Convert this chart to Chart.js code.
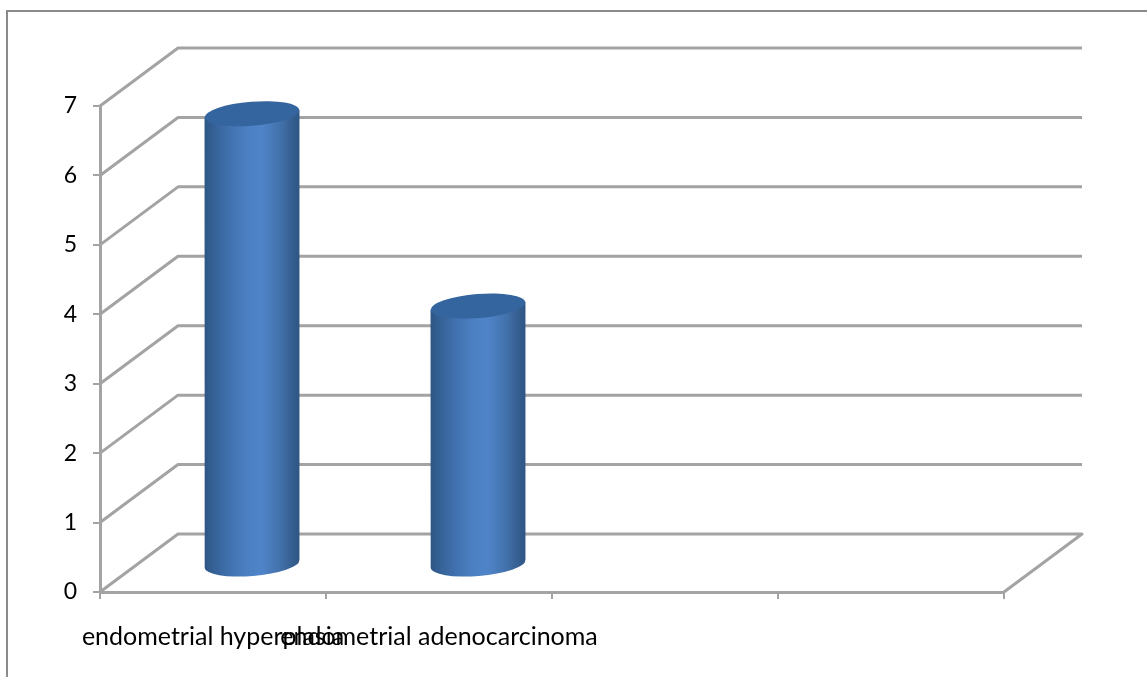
<!DOCTYPE html>
<html>
<head>
<meta charset="utf-8">
<title>Endometrial findings</title>
<script src="https://cdn.jsdelivr.net/npm/chart.js@4/dist/chart.umd.min.js"></script>
<style>
  html, body { margin: 0; padding: 0; background: #fff; }
  #wrap { position: relative; width: 1147px; height: 677px; overflow: hidden; }
  #wrap::before {
    content: ''; position: absolute; left: 6px; top: 10px;
    width: 1200px; height: 800px;
    border-left: 2px solid #8a8a8a; border-top: 2px solid #8a8a8a;
  }
  canvas { position: absolute; left: 0; top: 0; }
</style>
</head>
<body>
<div id="wrap"><canvas id="chart" width="1147" height="677"></canvas></div>
<script>
// four slots on the axis, only two are filled
const categories = ['endometrial hyperplasia', 'endometrial adenocarcinoma', '', '']
const values = [6.5, 3.73, null, null]
const yTicks = [0, 1, 2, 3, 4, 5, 6, 7]

const GRID_COLOR = '#a3a3a3'
const DEPTH_X = 78
const DEPTH_Y = 58

// back wall and floor lines, projected from the y scale
const wallPlugin = {
  id: 'wall',
  beforeDatasetsDraw(chart) {
    const { ctx, scales: { x, y } } = chart
    ctx.save()
    ctx.strokeStyle = GRID_COLOR
    ctx.lineWidth = 3
    ctx.lineJoin = 'round'
    yTicks.forEach(t => {
      const py = y.getPixelForValue(t)
      ctx.beginPath()
      ctx.moveTo(x.left, py)
      ctx.lineTo(x.left + DEPTH_X, py - DEPTH_Y)
      ctx.lineTo(x.right + DEPTH_X, py - DEPTH_Y)
      if (t === 0) ctx.lineTo(x.right, py)
      ctx.stroke()
    })
    ctx.restore()
  }
}

// cylinders sit halfway into the depth of the floor
const cylinderPlugin = {
  id: 'cylinder',
  afterDatasetsDraw(chart) {
    const { ctx } = chart
    const tilt = -0.08
    chart.getDatasetMeta(0).data.forEach((bar, i) => {
      if (values[i] === null) return
      const cx = bar.x + DEPTH_X / 2
      const rx = bar.width / 2
      const ry = 12
      const top = bar.y - DEPTH_Y / 2 + 2
      const bottom = bar.base - DEPTH_Y / 2 + 2
      const dy = rx * Math.sin(tilt)

      const grad = ctx.createLinearGradient(cx - rx, 0, cx + rx, 0)
      grad.addColorStop(0, '#2d5684')
      grad.addColorStop(0.08, '#335f93')
      grad.addColorStop(0.25, '#4070ad')
      grad.addColorStop(0.45, '#4c80c3')
      grad.addColorStop(0.6, '#4f84c9')
      grad.addColorStop(0.78, '#4474ae')
      grad.addColorStop(0.92, '#365f92')
      grad.addColorStop(1, '#2d5684')

      ctx.save()
      ctx.fillStyle = grad
      ctx.beginPath()
      ctx.moveTo(cx - rx, top - dy)
      ctx.lineTo(cx + rx, top + dy)
      ctx.lineTo(cx + rx, bottom + dy)
      ctx.ellipse(cx, bottom, rx, ry, tilt, 0, Math.PI)
      ctx.closePath()
      ctx.fill()

      ctx.fillStyle = '#35659f'
      ctx.beginPath()
      ctx.ellipse(cx, top, rx, ry, tilt, 0, Math.PI * 2)
      ctx.fill()
      ctx.restore()
    })
  }
}

new Chart(document.getElementById('chart'), {
  type: 'bar',
  data: {
    labels: categories,
    datasets: [{
      data: values,
      backgroundColor: 'transparent',
      barPercentage: 0.42,
      categoryPercentage: 1
    }]
  },
  options: {
    responsive: false,
    animation: false,
    layout: { padding: { top: 106, right: 143, bottom: 0, left: 0 } },
    plugins: { legend: { display: false }, tooltip: { enabled: false } },
    scales: {
      x: {
        afterFit(scale) { scale.height = 85 },
        grid: { drawOnChartArea: false, color: GRID_COLOR, lineWidth: 2, tickLength: 7 },
        border: { color: GRID_COLOR, width: 3 },
        ticks: { autoSkip: false, maxRotation: 0, minRotation: 0, padding: 23, color: '#000', font: { family: 'Lato, sans-serif', size: 25 } }
      },
      y: {
        min: 0,
        max: 7,
        afterFit(scale) { scale.width = 100 },
        grid: { drawOnChartArea: false, color: GRID_COLOR, lineWidth: 2, tickLength: 7 },
        border: { color: GRID_COLOR, width: 3 },
        ticks: { stepSize: 1, padding: 16, color: '#000', font: { family: 'Lato, sans-serif', size: 23 } }
      }
    }
  },
  plugins: [wallPlugin, cylinderPlugin]
})
</script>
</body>
</html>
